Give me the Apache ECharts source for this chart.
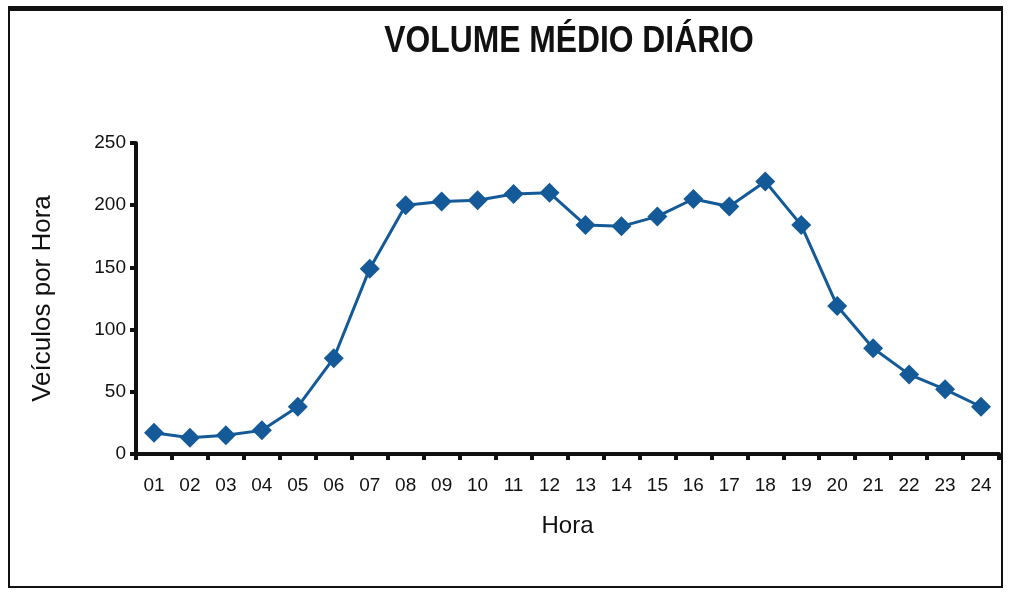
<!DOCTYPE html>
<html>
<head>
<meta charset="utf-8">
<script src="https://cdn.jsdelivr.net/npm/echarts@6/dist/echarts.min.js"></script>
<style>
  html, body { margin: 0; padding: 0; background: #fff; }
  #frame { position: absolute; left: 8px; top: 6px; width: 995px; height: 582px;
           border-left: 2px solid #111; border-right: 2px solid #111;
           border-top: 5px solid #111; border-bottom: 2px solid #111; box-sizing: border-box; }
  #chart { position: absolute; left: 0; top: 0; width: 1010px; height: 594px; }
</style>
</head>
<body>
<div id="frame"></div>
<div id="chart"></div>
<script>
// Hours of the day
const hours = ['01','02','03','04','05','06','07','08','09','10','11','12',
               '13','14','15','16','17','18','19','20','21','22','23','24'];
// Average vehicles per hour
const vehicles = [17, 13, 15, 19, 38, 77, 149, 200, 203, 204, 209, 210,
                  184, 183, 191, 205, 199, 219, 184, 119, 85, 64, 52, 38];
const yTicks = [0, 50, 100, 150, 200, 250];
const titleText = 'VOLUME MÉDIO DIÁRIO';

const chart = echarts.init(document.getElementById('chart'));
const font = 'Liberation Sans, Arial, sans-serif';
chart.setOption({
  animation: false,
  // Condensed bold heading: regular bold face squeezed horizontally
  graphic: [{
    type: 'text',
    x: 569, y: 42,
    scaleX: 0.86,
    style: {
      text: titleText,
      x: 0, y: 0,
      align: 'center', verticalAlign: 'middle',
      font: 'bold 37px Liberation Sans, Arial, sans-serif',
      fill: '#111'
    }
  }],
  grid: { left: 136, right: 11, top: 143, bottom: 140 },
  xAxis: {
    type: 'category',
    data: hours,
    boundaryGap: true,
    name: 'Hora',
    nameLocation: 'middle',
    nameGap: 60,
    nameTextStyle: { fontFamily: font, fontSize: 24, color: '#111' },
    axisLine: { lineStyle: { color: '#111', width: 4 } },
    axisTick: { show: true, length: 6, lineStyle: { color: '#111', width: 4 } },
    axisLabel: { fontFamily: font, fontSize: 19, color: '#111', margin: 22 },
    splitLine: { show: false }
  },
  yAxis: {
    type: 'value',
    min: yTicks[0], max: yTicks[yTicks.length - 1], interval: 50,
    name: 'Veículos por Hora',
    nameLocation: 'middle',
    nameRotate: 90,
    nameGap: 80,
    nameTextStyle: { fontFamily: font, fontSize: 26, color: '#111' },
    axisLine: { show: true, lineStyle: { color: '#111', width: 4 } },
    axisTick: { show: true, length: 6, lineStyle: { color: '#111', width: 4 } },
    axisLabel: { fontFamily: font, fontSize: 19, color: '#111', margin: 10 },
    splitLine: { show: false }
  },
  series: [{
    type: 'line',
    data: vehicles,
    symbol: 'diamond',
    symbolSize: 20,
    lineStyle: { color: '#145a98', width: 3 },
    itemStyle: { color: '#145a98' }
  }]
});
</script>
</body>
</html>
